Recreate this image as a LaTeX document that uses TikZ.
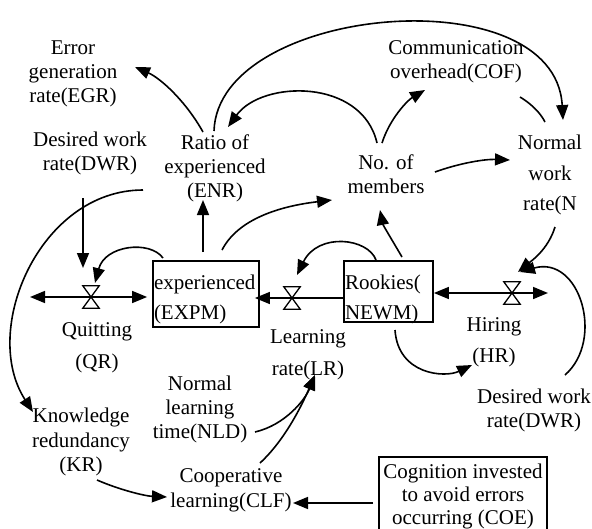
\documentclass[tikz,border=0pt]{standalone}
\usepackage{fontspec}
\setmainfont{Liberation Serif}
\usetikzlibrary{arrows.meta,calc}

\begin{document}
\begin{tikzpicture}[x=1pt,y=-1pt,
  lbl/.style={font=\fontsize{21}{24}\selectfont, align=center, inner sep=1pt},
  lblw/.style={font=\fontsize{21}{32}\selectfont, align=center, inner sep=1pt},
  stock/.style={draw, line width=1.8pt, inner sep=1pt, font=\fontsize{21}{30.5}\selectfont},
  valvehole/.style={minimum width=16pt, minimum height=22pt, inner sep=0pt},
  valveline/.style={line width=1.3pt, fill=white, line join=miter},
  link/.style={line width=1.6pt, -{Triangle[length=15pt,width=12pt]}},
  bare/.style={line width=1.6pt},
  pipeboth/.style={line width=1.6pt, {Triangle[length=15pt,width=12pt]}-{Triangle[length=15pt,width=12pt]}},
  pipeone/.style={line width=1.6pt, -{Triangle[length=15pt,width=12pt]}}
]
\useasboundingbox (0,0) rectangle (592,528);
\fill[white] (0,0) rectangle (592,528);

% auxiliaries and rates
\node[lbl] (egr) at (73,74) {Error\\generation\\rate(EGR)};
\node[lbl] (dwrl) at (90,153) {Desired work\\rate(DWR)};
\node[lbl] (enr) at (215,168) {Ratio of\\experienced\\(ENR)};
\node[lbl] (cof) at (456,62) {Communication\\overhead(COF)};
\node[lbl] (nom) at (386,174) {No. of\\members};
\node[lbl, font=\fontsize{21}{30.5}\selectfont] (nwr) at (550,175) {Normal\\work\\rate(N};
\node[lblw] (qr) at (97,348) {Quitting\\(QR)};
\node[lblw] (lr) at (308,355) {Learning\\rate(LR)};
\node[lblw, font=\fontsize{21}{31}\selectfont] (hr) at (494,342) {Hiring\\(HR)};
\node[lbl] (dwrr) at (534,410) {Desired work\\rate(DWR)};
\node[lbl] (nld) at (200,409) {Normal\\learning\\time(NLD)};
\node[lbl, font=\fontsize{21}{24.5}\selectfont] (kr) at (81,442) {Knowledge\\redundancy\\(KR)};
\node[lbl, font=\fontsize{21}{25}\selectfont] (clf) at (231,490) {Cooperative\\learning(CLF)};

% stocks
\node[stock] (expm) at (206,294)
  {\parbox[c][64pt][t]{104pt}{\raggedright\rule{0pt}{27pt}experienced\\(EXPM)}};
\node[stock] (newm) at (388.5,291.5)
  {\parbox[c][59pt][t]{87pt}{\raggedright\rule{0pt}{27pt}Rookies(\\NEWM)}};
\node[stock] (coe) at (463,495)
  {\parbox[c][74pt][t]{166pt}{\centering\fontsize{21}{23}\selectfont\rule{0pt}{20pt}Cognition invested\\to avoid errors\\occurring (COE)}};

% valves
\node[valvehole] (vq) at (91,297) {};
\node[valvehole] (vl) at (292,298) {};
\node[valvehole] (vh) at (512,293) {};
\coordinate (qout) at (30,297);
\coordinate (hin) at (548,293);

% flow pipes
\draw[pipeboth] (qout) -- ($(expm.west |- vq)+(-5,0)$);
\draw[pipeone] (newm.west |- vl) -- ($(expm.east |- vl)+(-5,0)$);
\draw[pipeboth] (newm.east |- vh) -- (hin);

\foreach \v in {vq,vl,vh}
  \filldraw[valveline] (\v.north west) -- (\v.north east) -- (\v.south west) -- (\v.south east) -- cycle;

% causal links
\draw[link] ($(enr)+(-12,-36)$) .. controls (185,100) and (160,78) .. ($(egr)+(62,-7)$);
\draw[link] ($(enr)+(-1,-37)$) .. controls (218,5) and (555,-25) .. ($(nwr)+(13,-55)$);
\draw[link] ($(nom)+(-9,-31)$) .. controls (362,78) and (262,80) .. ($(enr)+(13,-41)$);
\draw[link] ($(nom)+(-4,-31)$) .. controls (390,118) and (408,100) .. ($(cof)+(-31,28)$);
\draw[bare] ($(cof)+(64,35)$) .. controls (530,103) and (540,112) .. ($(nwr)+(-5,-53)$);
\draw[link] ($(nom)+(49,-2)$) .. controls (460,163) and (485,159) .. ($(nwr)+(-40,-15)$);
\draw[link] ($(expm)+(16,-44)$) .. controls (240,215) and (290,205) .. ($(nom)+(-54,26)$);
\draw[link] ($(expm)+(-3,-42)$) -- ($(enr)+(-12,32)$);
\draw[link] ($(expm)+(-43,-36)$) .. controls (150,240) and (105,245) .. ($(vq)+(4,-14)$);
\draw[link] ($(dwrl)+(-7,45)$) -- ($(vq)+(-8,-29)$);
\draw[link] ($(enr)+(-72,22)$) .. controls (40,190) and (-20,330) .. ($(kr)+(-48,-30)$);
\draw[link] ($(newm)+(13.5,-34.5)$) .. controls (392,240) and (383,225) .. ($(nom)+(-6,36)$);
\draw[link] ($(newm)+(-12.5,-31.5)$) .. controls (368,238) and (318,232) .. ($(vl)+(5,-23)$);
\draw[link] ($(newm)+(6.5,38.5)$) .. controls (398,375) and (445,378) .. ($(hr)+(-22,23)$);
\draw[link] ($(nwr)+(5,52)$) .. controls (548,250) and (530,262) .. ($(vh)+(6,-21)$);
\draw[link] ($(dwrr)+(31,-35)$) .. controls (605,340) and (580,255) .. ($(vh)+(8,-21)$);
\draw[link] ($(nld)+(55,23)$) .. controls (285,425) and (305,400) .. ($(lr)+(7,20)$);
\draw[link] ($(clf)+(29,-27)$) .. controls (285,440) and (302,405) .. ($(lr)+(7,20)$);
\draw[link] ($(kr)+(16,38)$) .. controls (120,490) and (145,496) .. ($(clf)+(-64,7)$);
\draw[link] ($(coe)+(-90,8)$) -- ($(clf)+(62,13)$);
\end{tikzpicture}
\end{document}
